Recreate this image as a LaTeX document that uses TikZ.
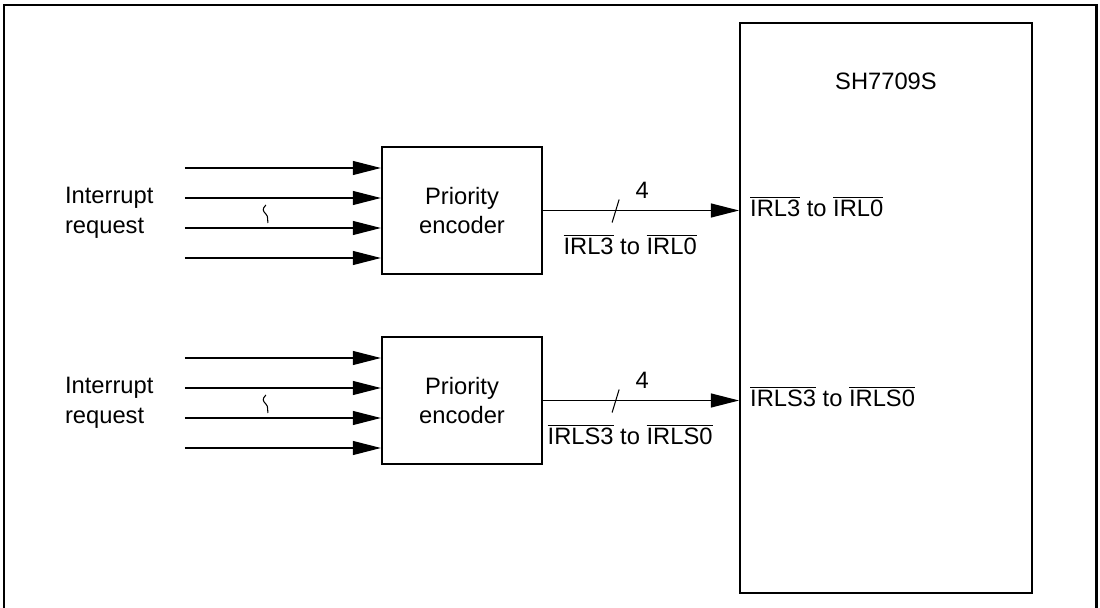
\documentclass[tikz,border=0pt]{standalone}
\usepackage{fontspec}
\setmainfont{Liberation Sans}
\usepackage{tikz}
\usetikzlibrary{calc, arrows.meta}
\newcommand{\ovl}[1]{$\overline{\mbox{#1}}$}

\begin{document}
\begin{tikzpicture}[x=0.02cm, y=-0.02cm,
  font=\fontsize{13.5}{17}\selectfont,
  encbox/.style={draw, line width=1.3pt, minimum width=3.2cm, minimum height=2.54cm,
    align=center, inner sep=0pt},
  sig/.style={line width=0.6pt, -{Triangle[length=16pt, width=8pt]}}]
  \useasboundingbox (0,0) rectangle (1100,608);

  % cornice
  \draw[line width=1.7pt] (4,608) -- (4,5) -- (1096,5) -- (1096,608);

  % chip
  \node[draw, line width=1.2pt, minimum width=5.84cm, minimum height=11.4cm]
    (chip) at (886,308) {};
  \node (name) at ($(chip.north)+(0,59)$) {SH7709S};

  % encoder
  \node[encbox] (enc1) at (462,210.5) {Priority\\encoder};
  \node[encbox] (enc2) at (462,400.5) {Priority\\encoder};

  \foreach \e/\sn in {enc1/IRL, enc2/IRLS} {
    % ingressi
    \foreach \dy in {-42.5,-12.5,17.5,47.5}
      \draw[sig] ($(\e.west)+(-196,\dy)$) -- ++(196,0);
    \draw[line width=0.6pt] ($(\e.west)+(-115,-5.5)$)
      .. controls +(-4,4) and +(-3,-3) .. ++(0,9)
      .. controls +(3,3) and +(-1,-3) .. ++(2,9);
    \node[anchor=west, align=left] (req-\e) at ($(\e.west)+(-322,2)$)
      {Interrupt\\request};

    % uscita
    \draw[sig] (\e.east) -- (\e.east -| chip.west);
    \draw[line width=0.6pt] ($(\e.east)+(69,12)$) -- ++(7,-23);
    \node (n-\e) at ($(\e.east)+(99,-20.5)$) {4};
    \node (bus-\e) at ($(\e.east)+(87,34)$) {\ovl{\sn3} to \ovl{\sn0}};
    \node[anchor=west] (pin-\e) at ($(\e.east -| chip.west)+(5,-4)$)
      {\ovl{\sn3} to \ovl{\sn0}};
  }
\end{tikzpicture}
\end{document}
